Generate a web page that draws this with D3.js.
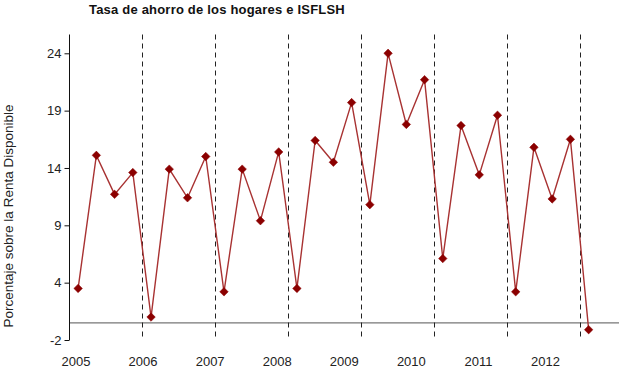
<!DOCTYPE html>
<html><head><meta charset="utf-8">
<script src="https://cdn.jsdelivr.net/npm/d3@7"></script>
<style>body{margin:0;background:#fff}svg{display:block}</style>
</head><body>
<script>
const quarters = d3.range(29).map(i => (2005 + Math.floor(i/4)) + "Q" + (i%4+1));
const savingsRate = [3.0, 14.6, 11.2, 13.1, 0.5, 13.4, 10.9, 14.5, 2.7, 13.4, 8.9, 14.9,
  3.0, 15.9, 14.0, 19.2, 10.3, 23.5, 17.3, 21.2, 5.6, 17.2, 12.9, 18.1, 2.7, 15.3, 10.8, 16.0, -0.6];
const yearLabels = ["2005","2006","2007","2008","2009","2010","2011","2012"];
const yTicks = [-1.5, 3.5, 8.5, 13.5, 18.5, 23.5];
const yearBreaks = [3.5, 7.5, 11.5, 15.5, 19.5, 23.5, 27.5];

const W = 619, H = 369;
const svg = d3.select("body").append("svg").attr("width", W).attr("height", H);

const x = d3.scaleLinear().domain([-0.5, 29.5]).range([69, 616]);
const y = d3.scaleLinear().domain([-1.5, 23.5]).range([340, 53.3]);
const xl = d3.scalePoint().domain(yearLabels).range([76, 545.5]);

// title
svg.append("text").attr("x", 89).attr("y", 13.5)
  .attr("font-family", "Liberation Sans, Arial, sans-serif").attr("font-size", 13)
  .attr("font-weight", "bold").attr("letter-spacing", 0.2).attr("fill", "#111")
  .text("Tasa de ahorro de los hogares e ISFLSH");

// y-axis title
svg.append("text").attr("transform", "translate(13,216) rotate(-90)")
  .attr("text-anchor", "middle")
  .attr("font-family", "Liberation Sans, Arial, sans-serif").attr("font-size", 13.5)
  .attr("fill", "#222").text("Porcentaje sobre la Renta Disponible");

// zero line
svg.append("line").attr("x1", 69).attr("x2", W).attr("y1", y(0)).attr("y2", y(0))
  .attr("stroke", "#777").attr("stroke-width", 1.2);

// dashed year breaks
svg.selectAll("line.brk").data(yearBreaks).enter().append("line")
  .attr("class","brk")
  .attr("x1", d => Math.round(x(d)) + 0.5).attr("x2", d => Math.round(x(d)) + 0.5)
  .attr("y1", 34.5).attr("y2", 340)
  .attr("stroke", "#222").attr("stroke-width", 1).attr("stroke-dasharray", "5,4");

// y axis
const yAxis = d3.axisLeft(y).tickValues(yTicks).tickSize(5).tickSizeOuter(0)
  .tickFormat(d => String(Math.sign(d) * Math.round(Math.abs(d))));
const ga = svg.append("g").attr("transform", "translate(69.5,0)").call(yAxis);
ga.select(".domain").remove();
ga.append("line").attr("x1",0).attr("x2",0).attr("y1",34.5).attr("y2",340).attr("stroke","#111");
ga.selectAll(".tick line").attr("stroke", "#111");
ga.selectAll(".tick text").attr("font-family", "Liberation Sans, Arial, sans-serif")
  .attr("font-size", 13).attr("fill", "#222").attr("x", -8);

// x labels
svg.selectAll("text.xl").data(yearLabels).enter().append("text")
  .attr("class","xl").attr("x", d => xl(d)).attr("y", 366)
  .attr("text-anchor","middle")
  .attr("font-family", "Liberation Sans, Arial, sans-serif").attr("font-size", 13)
  .attr("fill", "#222").text(d => d);

// line
const line = d3.line().x((d,i) => x(i)).y(d => y(d));
svg.append("path").datum(savingsRate).attr("d", line)
  .attr("fill","none").attr("stroke","#a83232").attr("stroke-width",1.4);

// markers
svg.selectAll("path.mk").data(savingsRate).enter().append("path")
  .attr("class","mk")
  .attr("d", d3.symbol().type(d3.symbolSquare).size(36))
  .attr("transform", (d,i) => `translate(${x(i)},${y(d)}) rotate(45)`)
  .attr("fill","#8b0000").attr("stroke","#8b0000").attr("stroke-width",0.5);
</script>
</body></html>
